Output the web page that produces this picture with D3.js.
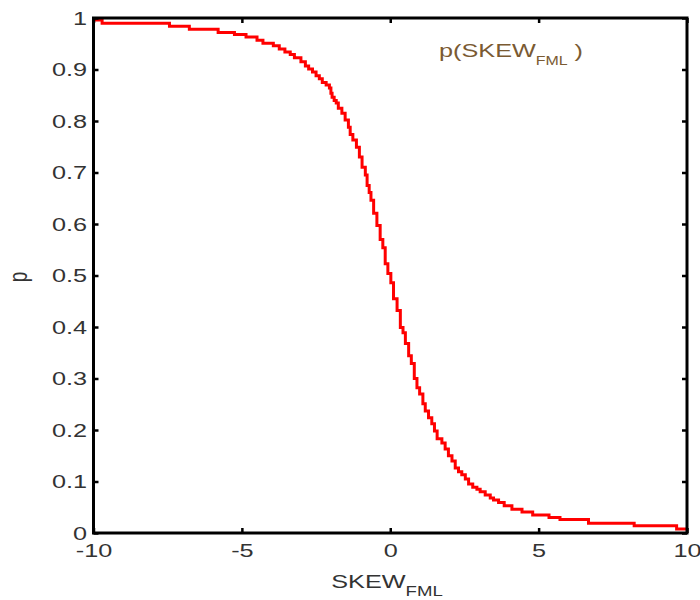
<!DOCTYPE html>
<html>
<head>
<meta charset="utf-8">
<script src="https://cdn.jsdelivr.net/npm/d3@7"></script>
<style>
  body { margin: 0; background: #fff; }
  svg text { font-family: "Liberation Sans", Arial, sans-serif; }
</style>
</head>
<body>
<div id="chart"></div>
<script>
var skewVals = [-10, -9.71, -7.44, -6.77, -5.80, -5.25, -4.86, -4.49, -4.29, -3.94,
    -3.74, -3.55, -3.37, -3.23, -3.01, -2.86, -2.75, -2.62, -2.50, -2.39,
    -2.29, -2.16, -2.05, -2.00, -1.96, -1.89, -1.82, -1.75, -1.63, -1.52,
    -1.41, -1.35, -1.26, -1.14, -1.04, -0.95, -0.84, -0.78, -0.71, -0.65,
    -0.56, -0.45, -0.34, -0.25, -0.17, -0.08, 0.02, 0.11, 0.23, 0.34,
    0.43, 0.51, 0.62, 0.71, 0.81, 0.90, 0.99, 1.10, 1.18, 1.29,
    1.40, 1.49, 1.58, 1.74, 1.85, 1.96, 2.08, 2.19, 2.30, 2.41,
    2.53, 2.64, 2.78, 2.92, 3.03, 3.20, 3.37, 3.48, 3.65, 3.84,
    4.10, 4.44, 4.80, 5.35, 5.72, 6.68, 8.22, 9.65, 10];
var pVals = [0.996, 0.990, 0.984, 0.978, 0.972, 0.968, 0.963, 0.957, 0.951, 0.946,
    0.940, 0.934, 0.929, 0.923, 0.915, 0.907, 0.901, 0.895, 0.888, 0.882,
    0.875, 0.870, 0.864, 0.854, 0.846, 0.840, 0.835, 0.825, 0.815, 0.802,
    0.788, 0.774, 0.763, 0.749, 0.730, 0.710, 0.695, 0.675, 0.661, 0.646,
    0.621, 0.597, 0.570, 0.554, 0.523, 0.504, 0.486, 0.455, 0.432, 0.399,
    0.389, 0.368, 0.344, 0.329, 0.300, 0.282, 0.270, 0.251, 0.237, 0.224,
    0.212, 0.198, 0.183, 0.175, 0.163, 0.150, 0.140, 0.126, 0.119, 0.113,
    0.105, 0.095, 0.089, 0.085, 0.080, 0.074, 0.068, 0.064, 0.059, 0.053,
    0.046, 0.041, 0.035, 0.030, 0.026, 0.019, 0.014, 0.008, 0.008];

var xTicks = [-10, -5, 0, 5, 10];
var yTicks = [0, 0.1, 0.2, 0.3, 0.4, 0.5, 0.6, 0.7, 0.8, 0.9, 1];

var width = 700;
var height = 600;
var margin = {left: 93.5, right: 13, top: 18, bottom: 67};
var sx = 1.33; // the text in the picture is stretched sideways

var svg = d3.select("#chart")
    .append("svg")
    .attr("width", width)
    .attr("height", height);

var x = d3.scaleLinear()
    .domain([-10, 10])
    .range([margin.left, width - margin.right]);

var y = d3.scaleLinear()
    .domain([0, 1])
    .range([height - margin.bottom, margin.top]);

var pts = skewVals.map(function(v, i) { return [v, pVals[i]]; });

// Step curve
var line = d3.line()
    .x(function(d) { return x(d[0]); })
    .y(function(d) { return y(d[1]); })
    .curve(d3.curveStepAfter);

svg.append("path")
    .datum(pts)
    .attr("d", line)
    .attr("fill", "none")
    .attr("stroke", "#ff0000")
    .attr("stroke-width", 3);

// Axes with inward ticks on all four sides
function styleAxis(g) {
    g.select(".domain").remove();
    g.selectAll(".tick line").attr("stroke", "#000").attr("stroke-width", 2.5);
}

// plain hyphen minus, like the picture
var fmt = function(d) { return String(+d.toFixed(1)); };

svg.append("g")
    .attr("transform", "translate(0," + y(0) + ")")
    .call(d3.axisBottom(x).tickValues(xTicks).tickSize(-5).tickPadding(11).tickFormat(fmt))
    .call(styleAxis)
    .call(function(g) {
        g.selectAll(".tick text")
            .attr("font-size", 19)
            .attr("fill", "#333")
            .attr("transform", "scale(" + sx + ",1)");
    });

svg.append("g")
    .attr("transform", "translate(0," + y(1) + ")")
    .call(d3.axisTop(x).tickValues(xTicks).tickSize(-5).tickFormat(""))
    .call(styleAxis);

svg.append("g")
    .attr("transform", "translate(" + x(-10) + ",0)")
    .call(d3.axisLeft(y).tickValues(yTicks).tickSize(-5).tickPadding(6.5).tickFormat(fmt))
    .call(styleAxis)
    .call(function(g) {
        g.selectAll(".tick text")
            .attr("font-size", 19)
            .attr("fill", "#333")
            .attr("x", -6.5 / sx)
            .attr("transform", "scale(" + sx + ",1)");
    });

svg.append("g")
    .attr("transform", "translate(" + x(10) + ",0)")
    .call(d3.axisRight(y).tickValues(yTicks).tickSize(-5).tickFormat(""))
    .call(styleAxis);

// Frame
svg.append("rect")
    .attr("x", x(-10))
    .attr("y", y(1))
    .attr("width", x(10) - x(-10))
    .attr("height", y(0) - y(1))
    .attr("fill", "none")
    .attr("stroke", "#000")
    .attr("stroke-width", 3);

// Axis titles
var xl = svg.append("text")
    .attr("transform", "translate(387,588) scale(" + sx + ",1)")
    .attr("text-anchor", "middle")
    .attr("font-size", 19)
    .attr("fill", "#333");
xl.append("tspan").text("SKEW");
xl.append("tspan").attr("dy", 8).attr("font-size", 14).text("FML");

svg.append("text")
    .attr("transform", "translate(27,277) scale(" + sx + ",1) rotate(-90)")
    .attr("text-anchor", "middle")
    .attr("font-size", 19)
    .attr("fill", "#333")
    .text("p");

// Legend label
var lg = svg.append("text")
    .attr("transform", "translate(439,57) scale(" + sx + ",1)")
    .attr("font-size", 19)
    .attr("fill", "#7a5a32");
lg.append("tspan").text("p(SKEW");
lg.append("tspan").attr("dy", 8).attr("font-size", 12).text("FML");
lg.append("tspan").attr("dy", -8).attr("dx", 5).text(")");
</script>
</body>
</html>
